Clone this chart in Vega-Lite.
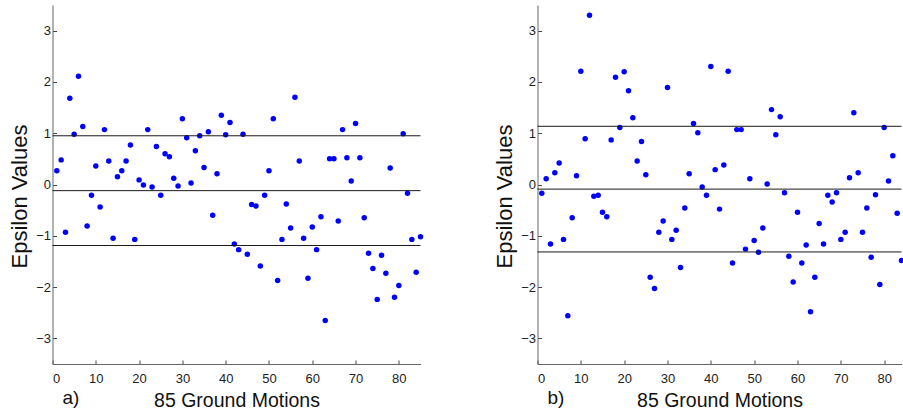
{
  "$schema": "https://vega.github.io/schema/vega-lite/v6.json",
  "background": "white",
  "padding": {"left": 8.5, "top": 5, "right": 0, "bottom": 0},
  "bounds": "flush",
  "spacing": 117,
  "config": {
    "font": "Liberation Sans",
    "view": {"stroke": null},
    "axis": {
      "grid": false,
      "domainColor": "#666666",
      "tickColor": "#444444",
      "tickSize": -4,
      "labelColor": "#222222",
      "labelFontSize": 13,
      "labelFont": "Liberation Sans",
      "titleFont": "Liberation Sans",
      "titleFontWeight": "normal",
      "titleColor": "#111111"
    },
    "title": {"font": "Liberation Sans", "fontWeight": "normal", "fontSize": 19, "color": "#111111"}
  },
  "datasets": {
    "a": [
      {"i":1,"eps":0.27},{"i":2,"eps":0.48},{"i":3,"eps":-0.93},{"i":4,"eps":1.68},{"i":5,"eps":0.98},
      {"i":6,"eps":2.11},{"i":7,"eps":1.13},{"i":8,"eps":-0.81},{"i":9,"eps":-0.21},{"i":10,"eps":0.36},
      {"i":11,"eps":-0.44},{"i":12,"eps":1.07},{"i":13,"eps":0.46},{"i":14,"eps":-1.05},{"i":15,"eps":0.15},
      {"i":16,"eps":0.27},{"i":17,"eps":0.46},{"i":18,"eps":0.77},{"i":19,"eps":-1.07},{"i":20,"eps":0.09},
      {"i":21,"eps":-0.01},{"i":22,"eps":1.07},{"i":23,"eps":-0.05},{"i":24,"eps":0.74},{"i":25,"eps":-0.21},
      {"i":26,"eps":0.60},{"i":27,"eps":0.54},{"i":28,"eps":0.12},{"i":29,"eps":-0.03},{"i":30,"eps":1.28},
      {"i":31,"eps":0.91},{"i":32,"eps":0.03},{"i":33,"eps":0.66},{"i":34,"eps":0.95},{"i":35,"eps":0.33},
      {"i":36,"eps":1.03},{"i":37,"eps":-0.60},{"i":38,"eps":0.21},{"i":39,"eps":1.35},{"i":40,"eps":0.97},
      {"i":41,"eps":1.21},{"i":42,"eps":-1.16},{"i":43,"eps":-1.27},{"i":44,"eps":0.98},{"i":45,"eps":-1.36},
      {"i":46,"eps":-0.39},{"i":47,"eps":-0.42},{"i":48,"eps":-1.59},{"i":49,"eps":-0.21},{"i":50,"eps":0.27},
      {"i":51,"eps":1.28},{"i":52,"eps":-1.87},{"i":53,"eps":-1.07},{"i":54,"eps":-0.38},{"i":55,"eps":-0.85},
      {"i":56,"eps":1.70},{"i":57,"eps":0.46},{"i":58,"eps":-1.05},{"i":59,"eps":-1.83},{"i":60,"eps":-0.83},
      {"i":61,"eps":-1.27},{"i":62,"eps":-0.63},{"i":63,"eps":-2.65},{"i":64,"eps":0.50},{"i":65,"eps":0.50},
      {"i":66,"eps":-0.71},{"i":67,"eps":1.07},{"i":68,"eps":0.52},{"i":69,"eps":0.07},{"i":70,"eps":1.19},
      {"i":71,"eps":0.52},{"i":72,"eps":-0.65},{"i":73,"eps":-1.34},{"i":74,"eps":-1.64},{"i":75,"eps":-2.24},
      {"i":76,"eps":-1.38},{"i":77,"eps":-1.73},{"i":78,"eps":0.32},{"i":79,"eps":-2.20},{"i":80,"eps":-1.97},
      {"i":81,"eps":0.99},{"i":82,"eps":-0.17},{"i":83,"eps":-1.07},{"i":84,"eps":-1.71},{"i":85,"eps":-1.02}
    ],
    "b": [
      {"i":1,"eps":-0.17},{"i":2,"eps":0.11},{"i":3,"eps":-1.16},{"i":4,"eps":0.23},{"i":5,"eps":0.42},
      {"i":6,"eps":-1.07},{"i":7,"eps":-2.56},{"i":8,"eps":-0.65},{"i":9,"eps":0.17},{"i":10,"eps":2.21},
      {"i":11,"eps":0.89},{"i":12,"eps":3.30},{"i":13,"eps":-0.23},{"i":14,"eps":-0.21},{"i":15,"eps":-0.54},
      {"i":16,"eps":-0.63},{"i":17,"eps":0.87},{"i":18,"eps":2.09},{"i":19,"eps":1.11},{"i":20,"eps":2.20},
      {"i":21,"eps":1.83},{"i":22,"eps":1.30},{"i":23,"eps":0.46},{"i":24,"eps":0.84},{"i":25,"eps":0.19},
      {"i":26,"eps":-1.81},{"i":27,"eps":-2.03},{"i":28,"eps":-0.93},{"i":29,"eps":-0.71},{"i":30,"eps":1.89},
      {"i":31,"eps":-1.07},{"i":32,"eps":-0.89},{"i":33,"eps":-1.62},{"i":34,"eps":-0.46},{"i":35,"eps":0.21},
      {"i":36,"eps":1.19},{"i":37,"eps":1.01},{"i":38,"eps":-0.05},{"i":39,"eps":-0.21},{"i":40,"eps":2.30},
      {"i":41,"eps":0.29},{"i":42,"eps":-0.48},{"i":43,"eps":0.38},{"i":44,"eps":2.21},{"i":45,"eps":-1.53},
      {"i":46,"eps":1.07},{"i":47,"eps":1.07},{"i":48,"eps":-1.26},{"i":49,"eps":0.11},{"i":50,"eps":-1.09},
      {"i":51,"eps":-1.32},{"i":52,"eps":-0.85},{"i":53,"eps":0.01},{"i":54,"eps":1.46},{"i":55,"eps":0.97},
      {"i":56,"eps":1.32},{"i":57,"eps":-0.16},{"i":58,"eps":-1.40},{"i":59,"eps":-1.90},{"i":60,"eps":-0.54},
      {"i":61,"eps":-1.53},{"i":62,"eps":-1.18},{"i":63,"eps":-2.48},{"i":64,"eps":-1.81},{"i":65,"eps":-0.76},
      {"i":66,"eps":-1.16},{"i":67,"eps":-0.21},{"i":68,"eps":-0.34},{"i":69,"eps":-0.16},{"i":70,"eps":-1.07},
      {"i":71,"eps":-0.93},{"i":72,"eps":0.13},{"i":73,"eps":1.40},{"i":74,"eps":0.23},{"i":75,"eps":-0.93},
      {"i":76,"eps":-0.46},{"i":77,"eps":-1.42},{"i":78,"eps":-0.20},{"i":79,"eps":-1.95},{"i":80,"eps":1.11},
      {"i":81,"eps":0.07},{"i":82,"eps":0.56},{"i":83,"eps":-0.56},{"i":84,"eps":-1.48}
    ],
    "lines_a": [{"v":0.95},{"v":-0.12},{"v":-1.19}],
    "lines_b": [{"v":1.135},{"v":-0.09},{"v":-1.315}]
  },
  "hconcat": [
    {
      "width": 368,
      "height": 359,
      "title": {"text": "a)", "orient": "bottom", "anchor": "start", "frame": "group", "dx": 10, "dy": -21, "offset": 0},
      "layer": [
        {
          "data": {"name": "a"},
          "mark": {"type": "circle", "size": 30, "color": "#0000ff", "opacity": 1},
          "encoding": {
            "x": {"field": "i", "type": "quantitative",
                  "scale": {"domain": [0, 85], "nice": false, "zero": false},
                  "axis": {"values": [0,10,20,30,40,50,60,70,80], "title": "85 Ground Motions", "titleFontSize": 19.5, "titlePadding": 6, "labelPadding": 12}},
            "y": {"field": "eps", "type": "quantitative",
                  "scale": {"domain": [-3.5, 3.5], "nice": false, "zero": false},
                  "axis": {"values": [-3,-2,-1,0,1,2,3], "title": "Epsilon Values", "titleFontSize": 22, "titlePadding": 4, "titleY": 191, "labelPadding": 6}}
          }
        },
        {
          "data": {"name": "lines_a"},
          "mark": {"type": "rule", "color": "#1a1a1a", "strokeWidth": 1},
          "encoding": {"y": {"field": "v", "type": "quantitative"}}
        }
      ]
    },
    {
      "width": 364,
      "height": 359,
      "title": {"text": "b)", "orient": "bottom", "anchor": "start", "frame": "group", "dx": 10, "dy": -21, "offset": 0},
      "layer": [
        {
          "data": {"name": "b"},
          "mark": {"type": "circle", "size": 30, "color": "#0000ff", "opacity": 1},
          "encoding": {
            "x": {"field": "i", "type": "quantitative",
                  "scale": {"domain": [0, 84], "nice": false, "zero": false},
                  "axis": {"values": [0,10,20,30,40,50,60,70,80], "title": "85 Ground Motions", "titleFontSize": 19.5, "titlePadding": 6, "labelPadding": 12}},
            "y": {"field": "eps", "type": "quantitative",
                  "scale": {"domain": [-3.5, 3.5], "nice": false, "zero": false},
                  "axis": {"values": [-3,-2,-1,0,1,2,3], "title": "Epsilon Values", "titleFontSize": 22, "titlePadding": 4, "titleY": 191, "labelPadding": 6}}
          }
        },
        {
          "data": {"name": "lines_b"},
          "mark": {"type": "rule", "color": "#1a1a1a", "strokeWidth": 1},
          "encoding": {"y": {"field": "v", "type": "quantitative"}}
        }
      ]
    }
  ]
}
